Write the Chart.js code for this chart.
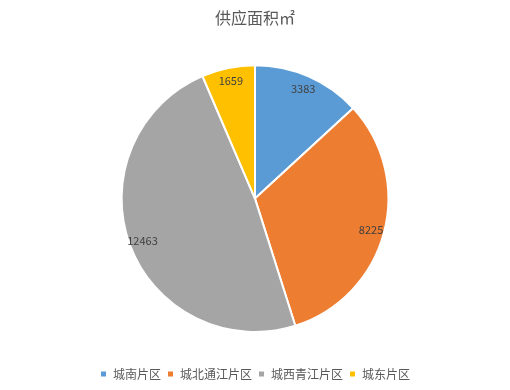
<!DOCTYPE html>
<html>
<head>
<meta charset="utf-8">
<script src="https://cdn.jsdelivr.net/npm/chart.js@4"></script>
<style>
    html, body { margin: 0; padding: 0; background: #fff; }
    #wrap { width: 510px; height: 390px; }
</style>
</head>
<body>
<div id="wrap"><canvas id="pieChart"></canvas></div>
<script>
// Data
const categories = ['城南片区', '城北通江片区', '城西青江片区', '城东片区'];
const areaValues = [3383, 8225, 12463, 1659];
const sliceColors = ['#5B9BD5', '#ED7D31', '#A5A5A5', '#FFC000'];

const cjkFont = "'Noto Sans CJK SC', 'Noto Sans', sans-serif";

// Draw value labels inside each slice
const sliceLabels = {
    id: 'sliceLabels',
    afterDatasetsDraw(chart) {
        const ctx = chart.ctx;
        const meta = chart.getDatasetMeta(0);
        ctx.save();
        ctx.font = '11px ' + cjkFont;
        ctx.fillStyle = '#404040';
        ctx.textAlign = 'center';
        ctx.textBaseline = 'middle';
        meta.data.forEach((arc, i) => {
            const p = arc.getProps(['x', 'y', 'startAngle', 'endAngle', 'outerRadius'], true);
            const mid = (p.startAngle + p.endAngle) / 2;
            const r = p.outerRadius * 0.9;
            ctx.fillText(String(areaValues[i]), p.x + Math.cos(mid) * r, p.y + Math.sin(mid) * r);
        });
        ctx.restore();
    }
};

new Chart(document.getElementById('pieChart'), {
    type: 'pie',
    data: {
        labels: categories,
        datasets: [{
            data: areaValues,
            backgroundColor: sliceColors,
            borderColor: '#ffffff',
            borderWidth: 2
        }]
    },
    options: {
        responsive: true,
        maintainAspectRatio: false,
        animation: false,
        plugins: {
            title: {
                display: true,
                text: '供应面积㎡',
                color: '#595959',
                font: { family: cjkFont, size: 16, weight: 'normal' },
                padding: { top: 8, bottom: 37 }
            },
            legend: {
                position: 'bottom',
                // blank legend title only used as spacing above the items
                title: {
                    display: true,
                    text: ' ',
                    font: { size: 10 },
                    padding: { top: 17, bottom: 0 }
                },
                labels: {
                    color: '#595959',
                    font: { family: cjkFont, size: 12 },
                    boxWidth: 7,
                    boxHeight: 7,
                    padding: 6
                }
            },
            tooltip: { enabled: false }
        }
    },
    plugins: [sliceLabels]
});
</script>
</body>
</html>
